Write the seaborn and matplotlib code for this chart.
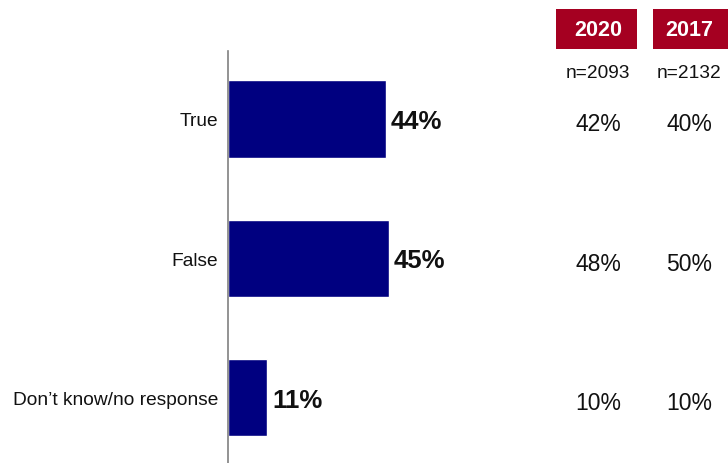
import matplotlib
matplotlib.use("Agg")
import matplotlib.pyplot as plt
import matplotlib.transforms as mtransforms
from matplotlib.patches import Rectangle
import seaborn as sns
import pandas as pd

# Survey responses
categories = ["True", "False", "Don\u2019t know/no response"]
values_current = [44, 45, 11]
years = ["2020", "2017"]
sample_sizes = ["n=2093", "n=2132"]
values_2020 = [42, 48, 10]
values_2017 = [40, 50, 10]

sns.set_theme(style="white")
plt.rcParams["font.family"] = ["Liberation Sans", "DejaVu Sans"]

W, H = 728, 464
fig = plt.figure(figsize=(W / 100, H / 100), dpi=100)
ax = fig.add_axes([228 / W, 0, 500 / W, 412 / H])

df = pd.DataFrame({"category": categories, "value": values_current})
sns.barplot(data=df, x="value", y="category", color="#000080",
            width=0.555, saturation=1, ax=ax)

px_per_pct = 3.58
ax.set_xlim(0, 500 / px_per_pct)
ax.set_ylim(2.47, -0.488)

for i, v in enumerate(values_current):
    ax.annotate(f"{v}%", xy=(v, i), xytext=(3.5, -1.5), textcoords="offset points",
                ha="left", va="center", fontsize=18.5, fontweight="bold",
                color="#111111")

ax.set_xlabel("")
ax.set_ylabel("")
ax.set_xticks([])
ax.tick_params(axis="y", length=0, pad=7, labelsize=13.8, labelcolor="#111111")
for side in ["top", "right", "bottom"]:
    ax.spines[side].set_visible(False)
ax.spines["left"].set_color("#808080")
ax.spines["left"].set_linewidth(1.2)

# Comparison columns for earlier waves
col_x = [598 / W, 689 / W]
col_vals = [values_2020, values_2017]
box_spans = [(556, 637), (653, 735)]
blend = mtransforms.blended_transform_factory(fig.transFigure, ax.transData)
for cx, (x0, x1), yr, n, vals in zip(col_x, box_spans, years, sample_sizes, col_vals):
    fig.patches.append(Rectangle((x0 / W, 1 - 50 / H), (x1 - x0) / W, 40 / H,
                                 transform=fig.transFigure, facecolor="#A50021",
                                 edgecolor="none", zorder=0))
    fig.text(cx, 1 - 30 / H, yr, ha="center", va="center", color="white",
             fontsize=15.5, fontweight="bold")
    fig.text(cx, 1 - 74 / H, n, ha="center", va="center", color="#111111",
             fontsize=13.8)
    for i, v in enumerate(vals):
        ax.annotate(f"{v}%", xy=(cx, i), xycoords=blend, xytext=(0, -3.5),
                    textcoords="offset points", ha="center", va="center",
                    fontsize=16.5, color="#111111", annotation_clip=False)

fig.savefig("out.png", dpi=100)
